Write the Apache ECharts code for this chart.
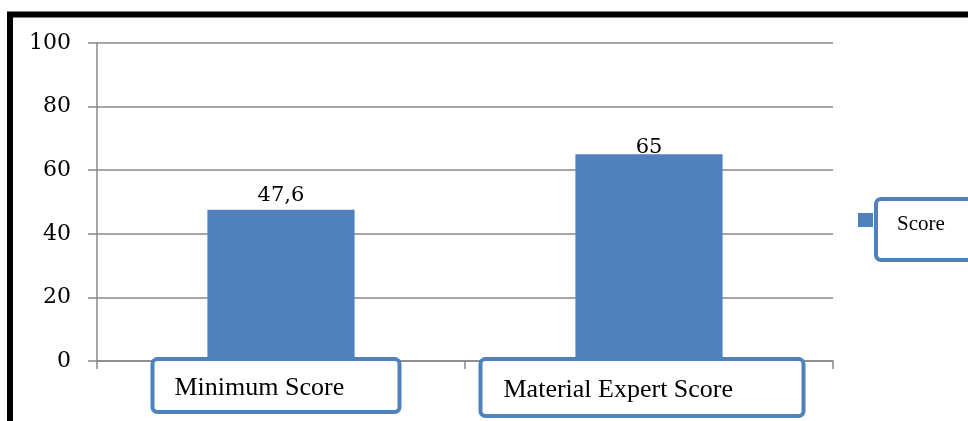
<!DOCTYPE html>
<html>
<head>
<meta charset="utf-8">
<script src="https://cdn.jsdelivr.net/npm/echarts@6/dist/echarts.min.js"></script>
<style>
html,body{margin:0;padding:0;background:#fff;}
#chart{width:968px;height:421px;}
</style>
</head>
<body>
<div id="chart"></div>
<script>
const categories = ['Minimum Score', 'Material Expert Score'];
const scoreValues = [47.6, 65];
const seriesName = 'Score';
const yTicks = [0, 20, 40, 60, 80, 100];

const blue = '#4F81BD';
const gray = '#888888';
const boxStyles = ['a', 'b'];
const spacers = ['s1', 's2'];

const chart = echarts.init(document.getElementById('chart'));
chart.setOption({
  animation: false,
  backgroundColor: '#fff',
  graphic: [{
    type: 'rect', z: -10, silent: true,
    shape: { x: 10, y: 14.5, width: 1000, height: 500 },
    style: { fill: 'none', stroke: '#000', lineWidth: 6 }
  }],
  grid: { left: 97, right: 135, top: 43, bottom: 60 },
  legend: {
    left: 858, top: 197, padding: 0,
    data: [seriesName],
    itemWidth: 15, itemHeight: 33,
    icon: 'path://M0,0L15,0L15,14L0,14Z M0,33L0.01,33',
    formatter: function (name) { return '{t|' + name + '}'; },
    textStyle: {
      rich: {
        t: {
          fontFamily: 'Liberation Serif', fontSize: 21, color: '#000',
          backgroundColor: '#fff', borderColor: blue, borderWidth: 4, borderRadius: 3,
          lineHeight: 20, height: 20, width: 60, align: 'left',
          padding: [13, 20, 24, 19]
        }
      }
    }
  },
  xAxis: {
    type: 'category',
    data: categories,
    axisLine: { lineStyle: { color: gray, width: 1.5 } },
    axisTick: { show: true, length: 8, alignWithLabel: false, lineStyle: { color: gray, width: 1.5 } },
    axisLabel: {
      interval: 0, margin: 0,
      formatter: function (v, i) { return '{' + boxStyles[i] + '|' + v + '}{' + spacers[i] + '|}'; },
      rich: {
        a: { fontFamily: 'Liberation Serif', fontSize: 26, color: '#000', backgroundColor: '#fff',
             borderColor: blue, borderWidth: 4, borderRadius: 3, width: 223, height: 43,
             padding: [6, 0, 0, 20], align: 'left', verticalAlign: 'middle' },
        b: { fontFamily: 'Liberation Serif', fontSize: 26, color: '#000', backgroundColor: '#fff',
             borderColor: blue, borderWidth: 4, borderRadius: 3, width: 298, height: 47,
             padding: [6, 0, 0, 21], align: 'left', verticalAlign: 'middle' },
        s1: { width: 10, height: 1 },
        s2: { width: 14, height: 1 }
      }
    }
  },
  yAxis: {
    type: 'value',
    min: yTicks[0], max: yTicks[yTicks.length - 1], interval: yTicks[1] - yTicks[0],
    axisLine: { show: true, lineStyle: { color: gray, width: 1.5 } },
    axisTick: { show: true, length: 9, lineStyle: { color: gray, width: 1.5 } },
    splitLine: { show: true, lineStyle: { color: gray, width: 1.5 } },
    axisLabel: { fontFamily: 'DejaVu Serif', fontSize: 22, color: '#000', margin: 26 }
  },
  series: [{
    name: seriesName,
    type: 'bar',
    barWidth: '40%',
    itemStyle: { color: blue },
    label: {
      show: true, position: 'top', distance: 4,
      fontFamily: 'DejaVu Serif', fontSize: 21, color: '#000',
      formatter: function (p) { return String(p.value).replace('.', ','); }
    },
    data: scoreValues.map(function (v, i) {
      return i === 1 ? { value: v, label: { offset: [0, 8] } } : v;
    })
  }]
});
</script>
</body>
</html>
